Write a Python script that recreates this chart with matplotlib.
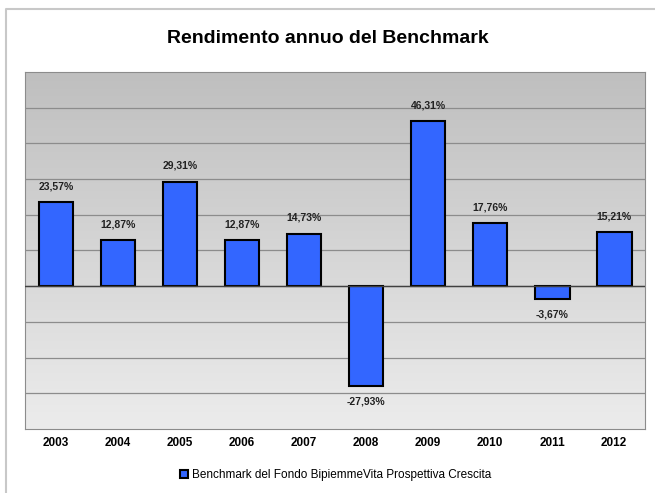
import numpy as np
import matplotlib.pyplot as plt
from matplotlib.lines import Line2D

# dati
anni = ["2003", "2004", "2005", "2006", "2007", "2008", "2009", "2010", "2011", "2012"]
rendimenti = [23.57, 12.87, 29.31, 12.87, 14.73, -27.93, 46.31, 17.76, -3.67, 15.21]
etichette = ["23,57%", "12,87%", "29,31%", "12,87%", "14,73%", "-27,93%", "46,31%", "17,76%", "-3,67%", "15,21%"]
serie = "Benchmark del Fondo BipiemmeVita Prospettiva Crescita"

plt.rcParams['font.family'] = ['Liberation Sans Narrow', 'Liberation Sans', 'DejaVu Sans']

fig = plt.figure(figsize=(6.55, 4.93), dpi=100)
# cornice esterna (solo lato sinistro e superiore visibili)
fig.lines.append(Line2D([0.0099, 0.0099, 1.0], [0.0, 0.9817, 0.9817], transform=fig.transFigure,
                        color="#c8c8c8", linewidth=1.5))

ax = fig.add_axes([0.038, 0.130, 0.947, 0.724])
ax.set_xlim(-0.5, len(anni) - 0.5)
ax.set_ylim(-40, 60)

# sfondo sfumato
grad = np.linspace(0, 1, 256).reshape(-1, 1)
ax.imshow(grad, extent=[-0.5, len(anni) - 0.5, -40, 60], aspect="auto",
          cmap=plt.matplotlib.colors.LinearSegmentedColormap.from_list("g", ["#ececec", "#bfbfbf"]),
          origin="lower", zorder=0)

for y in range(-30, 60, 10):
    ax.axhline(y, color="#8c8c8c", linewidth=0.9, zorder=1)
ax.axhline(0, color="#404040", linewidth=1, zorder=3)

x = np.arange(len(anni))
barre = ax.bar(x, rendimenti, width=0.56, color="#3366ff", edgecolor="black",
               linewidth=1.5, zorder=2, label=serie)

for xi, v, t in zip(x, rendimenti, etichette):
    if v >= 0:
        ax.text(xi, v + 3, t, ha="center", va="bottom", fontsize=7.5, fontweight="bold", color="#222222")
    else:
        ax.text(xi, v - 3, t, ha="center", va="top", fontsize=7.5, fontweight="bold", color="#222222")

ax.set_xticks(x)
ax.set_xticklabels(anni, fontsize=8.5, fontweight="bold")
ax.tick_params(axis="x", length=0, pad=6)
ax.set_yticks([])
for s in ax.spines.values():
    s.set_color("#8c8c8c")

fig.text(0.5, 0.922, "Rendimento annuo del Benchmark", ha="center", va="center",
         fontsize=14, fontweight="bold")

fig.legend(handles=[barre], labels=[serie], loc="center", bbox_to_anchor=(0.512, 0.036),
           frameon=False, fontsize=8.5, handlelength=0.7, handleheight=0.7, handletextpad=0.3)

fig.savefig("out.png", dpi=100)
